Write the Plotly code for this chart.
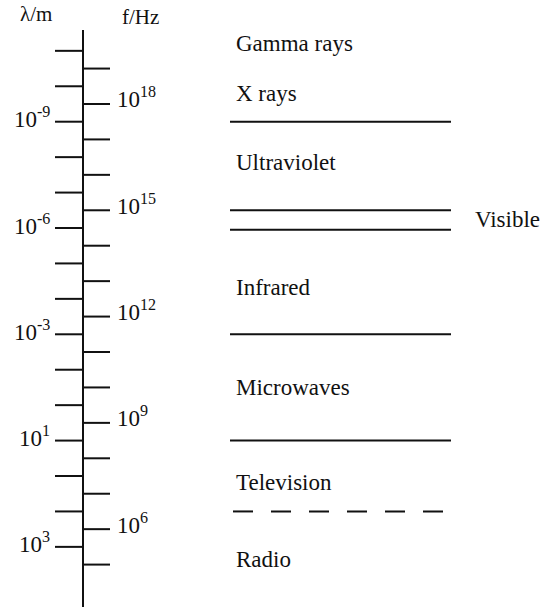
import plotly.graph_objects as go

# vertical scale is log10(f / Hz); wavelength ticks sit half a decade between
freq_ticks = [19, 18, 17, 16, 15, 14, 13, 12, 11, 10, 9, 8, 7, 6, 5]
freq_labels = {18: "10<sup>18</sup>", 15: "10<sup>15</sup>", 12: "10<sup>12</sup>",
               9: "10<sup>9</sup>", 6: "10<sup>6</sup>"}
wave_ticks = [19.5, 18.5, 17.5, 16.5, 15.5, 14.5, 13.5, 12.5, 11.5, 10.5, 9.5,
              8.5, 7.5, 6.5, 5.5]
wave_labels = {17.5: "10<sup>-9</sup>", 14.5: "10<sup>-6</sup>", 11.5: "10<sup>-3</sup>",
               8.5: "10<sup>1</sup>", 5.5: "10<sup>3</sup>"}

band_lines = [17.5, 15.0, 14.45, 11.5, 8.5]
dashed_lines = [6.5]
band_names = ["Gamma rays", "X rays", "Ultraviolet", "Infrared", "Microwaves",
              "Television", "Radio"]
band_label_pos = [19.72, 18.31, 16.36, 12.81, 10.01, 7.33, 5.13]
visible_pos = 14.73

FONT = "Liberation Serif, Times New Roman, serif"
AXIS_X = 83
BLACK = "#111111"

fig = go.Figure()


def segs(x0, x1, ys):
    xs, yy = [], []
    for y in ys:
        xs += [x0, x1, None]
        yy += [y, y, None]
    return xs, yy


# main vertical axis
fig.add_trace(go.Scatter(x=[AXIS_X, AXIS_X], y=[20.09, 3.7], mode="lines",
                         line=dict(color=BLACK, width=2), hoverinfo="skip"))

# wavelength ticks (left) and frequency ticks (right)
xs, ys = segs(55, AXIS_X, wave_ticks)
fig.add_trace(go.Scatter(x=xs, y=ys, mode="lines",
                         line=dict(color=BLACK, width=2), hoverinfo="skip"))
xs, ys = segs(AXIS_X, 110, freq_ticks)
fig.add_trace(go.Scatter(x=xs, y=ys, mode="lines",
                         line=dict(color=BLACK, width=2), hoverinfo="skip"))

# band boundaries
xs, ys = segs(230, 451, band_lines)
fig.add_trace(go.Scatter(x=xs, y=ys, mode="lines",
                         line=dict(color=BLACK, width=2), hoverinfo="skip"))
xs, ys = segs(233, 451, dashed_lines)
fig.add_trace(go.Scatter(x=xs, y=ys, mode="lines",
                         line=dict(color=BLACK, width=2, dash="20px,18px"),
                         hoverinfo="skip"))

ann = []
for v, t in wave_labels.items():
    ann.append(dict(x=52, y=v, text=t, xanchor="right", yanchor="middle",
                    yshift=4))
for v, t in freq_labels.items():
    ann.append(dict(x=115, y=v, text=t, xanchor="left", yanchor="middle",
                    yshift=6))
for name, v in zip(band_names, band_label_pos):
    ann.append(dict(x=234, y=v, text=name, xanchor="left", yanchor="middle"))
ann.append(dict(x=473, y=visible_pos, text="Visible", xanchor="left",
                yanchor="middle"))
ann.append(dict(x=36, y=20.54, text="λ/m", xanchor="center", yanchor="middle",
                font=dict(size=21)))
ann.append(dict(x=140, y=20.455, text="f/Hz", xanchor="center", yanchor="middle",
                font=dict(size=21)))
for a in ann:
    a.update(xref="x", yref="y", showarrow=False)
    a.setdefault("font", dict(size=23))
    a["font"].update(family=FONT, color=BLACK)

fig.update_layout(
    width=542, height=607,
    margin=dict(l=0, r=0, t=0, b=0),
    paper_bgcolor="white", plot_bgcolor="white",
    showlegend=False,
    annotations=ann,
    xaxis=dict(range=[0, 542], visible=False, fixedrange=True),
    yaxis=dict(range=[3.803, 20.935], visible=False, fixedrange=True),
)

fig.write_html("out.html", config={"displayModeBar": False},
               post_script="document.body.style.margin='0';")
